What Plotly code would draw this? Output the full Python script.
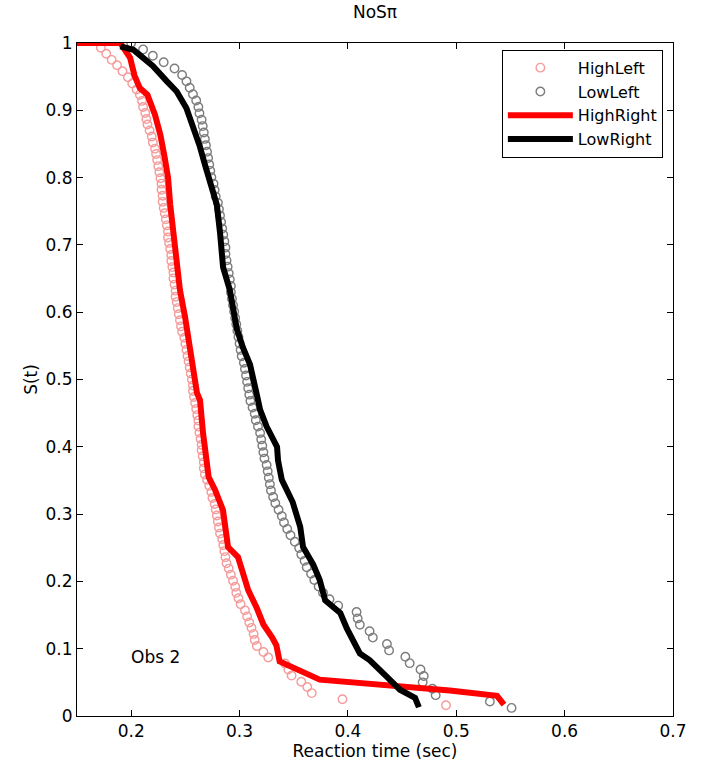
import plotly.graph_objects as go

# ---------------- data ----------------
high_left_rt = [0.172, 0.177, 0.182, 0.187, 0.192, 0.197, 0.201, 0.205, 0.208, 0.210,
                0.211, 0.213, 0.214, 0.215, 0.217, 0.219, 0.220, 0.222, 0.223, 0.224,
                0.225, 0.226, 0.227, 0.228, 0.228, 0.229, 0.229, 0.230, 0.231, 0.232,
                0.233, 0.234, 0.234, 0.235, 0.236, 0.237, 0.237, 0.238, 0.239, 0.239,
                0.240, 0.241, 0.241, 0.242, 0.243, 0.244, 0.245, 0.246, 0.247, 0.249,
                0.250, 0.251, 0.252, 0.253, 0.254, 0.255, 0.256, 0.257, 0.257, 0.258,
                0.259, 0.260, 0.261, 0.262, 0.262, 0.263, 0.264, 0.265, 0.265, 0.266,
                0.267, 0.267, 0.268, 0.270, 0.272, 0.274, 0.275, 0.277, 0.278, 0.279,
                0.280, 0.281, 0.282, 0.284, 0.285, 0.286, 0.287, 0.288, 0.290, 0.292,
                0.294, 0.296, 0.297, 0.299, 0.301, 0.305, 0.307, 0.309, 0.311, 0.313,
                0.314, 0.316, 0.322, 0.3265, 0.342, 0.345, 0.348, 0.357, 0.3625, 0.3666,
                0.395, 0.4905]
high_left_s = [0.993, 0.984, 0.975, 0.967, 0.958, 0.949, 0.940, 0.931, 0.923, 0.914,
               0.905, 0.896, 0.887, 0.879, 0.870, 0.861, 0.852, 0.843, 0.835, 0.826,
               0.817, 0.808, 0.799, 0.791, 0.782, 0.773, 0.764, 0.755, 0.747, 0.738,
               0.729, 0.720, 0.711, 0.703, 0.694, 0.685, 0.676, 0.667, 0.659, 0.650,
               0.641, 0.632, 0.623, 0.615, 0.606, 0.597, 0.588, 0.579, 0.571, 0.562,
               0.553, 0.544, 0.535, 0.527, 0.518, 0.509, 0.500, 0.491, 0.483, 0.474,
               0.465, 0.456, 0.447, 0.439, 0.430, 0.421, 0.412, 0.403, 0.395, 0.386,
               0.377, 0.368, 0.359, 0.351, 0.342, 0.333, 0.324, 0.315, 0.307, 0.298,
               0.289, 0.280, 0.271, 0.263, 0.254, 0.245, 0.236, 0.227, 0.219, 0.210,
               0.201, 0.192, 0.183, 0.175, 0.166, 0.157, 0.148, 0.139, 0.131, 0.122,
               0.113, 0.104, 0.095, 0.087, 0.078, 0.069, 0.060, 0.051, 0.043, 0.034,
               0.025, 0.016]

low_left_rt = [0.200, 0.211, 0.220, 0.230, 0.240, 0.247, 0.251, 0.254, 0.257, 0.260,
               0.262, 0.263, 0.265, 0.266, 0.267, 0.268, 0.269, 0.270, 0.271, 0.272,
               0.273, 0.274, 0.276, 0.277, 0.278, 0.280, 0.281, 0.282, 0.283, 0.284,
               0.285, 0.286, 0.287, 0.287, 0.288, 0.289, 0.290, 0.291, 0.292, 0.292,
               0.293, 0.294, 0.295, 0.296, 0.297, 0.298, 0.299, 0.300, 0.301, 0.302,
               0.304, 0.305, 0.306, 0.307, 0.308, 0.309, 0.310, 0.312, 0.314, 0.315,
               0.317, 0.319, 0.320, 0.321, 0.322, 0.323, 0.325, 0.326, 0.327, 0.328,
               0.329, 0.331, 0.333, 0.336, 0.339, 0.341, 0.344, 0.347, 0.351, 0.355,
               0.357, 0.360, 0.362, 0.366, 0.369, 0.373, 0.377, 0.383, 0.391, 0.408,
               0.409, 0.411, 0.420, 0.423, 0.436, 0.438, 0.453, 0.457, 0.467, 0.470,
               0.469, 0.478, 0.481, 0.531, 0.551]
low_left_s = [1.000, 0.9905, 0.981, 0.9715, 0.962, 0.9525, 0.943, 0.9335, 0.924, 0.9145,
              0.905, 0.8955, 0.886, 0.8765, 0.867, 0.8575, 0.848, 0.8385, 0.829, 0.8195,
              0.810, 0.8005, 0.791, 0.7815, 0.772, 0.7625, 0.753, 0.7435, 0.734, 0.7245,
              0.715, 0.7055, 0.696, 0.6865, 0.677, 0.6675, 0.658, 0.6485, 0.639, 0.6295,
              0.620, 0.6105, 0.601, 0.5915, 0.582, 0.5725, 0.563, 0.5535, 0.544, 0.5345,
              0.525, 0.5155, 0.506, 0.4965, 0.487, 0.4775, 0.468, 0.4585, 0.449, 0.4395,
              0.430, 0.4205, 0.411, 0.4015, 0.392, 0.3825, 0.373, 0.3635, 0.354, 0.3445,
              0.335, 0.3255, 0.316, 0.3065, 0.297, 0.2875, 0.278, 0.2685, 0.259, 0.2495,
              0.240, 0.2305, 0.221, 0.2115, 0.202, 0.1925, 0.183, 0.1735, 0.164, 0.1545,
              0.145, 0.1355, 0.126, 0.1165, 0.107, 0.0975, 0.088, 0.0785, 0.069, 0.0595,
              0.050, 0.0405, 0.031, 0.0215, 0.012]

high_right_rt = [0.150, 0.190, 0.199, 0.203, 0.208, 0.215, 0.222, 0.227, 0.231, 0.234,
                 0.236, 0.2405, 0.245, 0.2497, 0.2543, 0.257, 0.2607, 0.2635, 0.2663, 0.2715,
                 0.2774, 0.2847, 0.2894, 0.2986, 0.303, 0.308, 0.316, 0.322, 0.330, 0.334,
                 0.337, 0.374, 0.494, 0.5376, 0.544]
high_right_s = [1.000, 1.000, 0.978, 0.952, 0.933, 0.923, 0.893, 0.863, 0.829, 0.800,
                0.760, 0.692, 0.633, 0.593, 0.544, 0.529, 0.480, 0.4695, 0.4205, 0.355,
                0.336, 0.306, 0.251, 0.236, 0.212, 0.187, 0.160, 0.136, 0.117, 0.105,
                0.081, 0.054, 0.038, 0.030, 0.017]

low_right_rt = [0.190, 0.202, 0.208, 0.220, 0.233, 0.242, 0.251, 0.257, 0.263, 0.269,
                0.275, 0.279, 0.282, 0.2848, 0.291, 0.2975, 0.303, 0.3097, 0.316, 0.319,
                0.325, 0.3346, 0.3355, 0.339, 0.349, 0.356, 0.3586, 0.368, 0.374, 0.379,
                0.393, 0.399, 0.411, 0.420, 0.436, 0.448, 0.462, 0.4655]
low_right_s = [0.995, 0.990, 0.982, 0.966, 0.943, 0.928, 0.903, 0.878, 0.848, 0.814,
               0.785, 0.760, 0.718, 0.667, 0.633, 0.575, 0.548, 0.522, 0.477, 0.455,
               0.430, 0.400, 0.380, 0.351, 0.318, 0.281, 0.251, 0.225, 0.202, 0.172,
               0.153, 0.130, 0.093, 0.083, 0.058, 0.039, 0.027, 0.013]

x_ticks = [0.2, 0.3, 0.4, 0.5, 0.6, 0.7]
x_tick_labels = ["0.2", "0.3", "0.4", "0.5", "0.6", "0.7"]
y_ticks = [0, 0.1, 0.2, 0.3, 0.4, 0.5, 0.6, 0.7, 0.8, 0.9, 1]
y_tick_labels = ["0", "0.1", "0.2", "0.3", "0.4", "0.5", "0.6", "0.7", "0.8", "0.9", "1"]

# ---------------- figure ----------------
FONT = "DejaVu Sans"
PINK = "rgb(246,155,155)"
GREY = "rgb(125,125,125)"
fig = go.Figure()

fig.add_trace(go.Scatter(
    x=high_left_rt, y=high_left_s, mode="markers", name="HighLeft",
    marker=dict(symbol="circle-open", size=8.5, color=PINK,
                line=dict(width=1.4, color=PINK))))
fig.add_trace(go.Scatter(
    x=low_left_rt, y=low_left_s, mode="markers", name="LowLeft",
    marker=dict(symbol="circle-open", size=8.5, color=GREY,
                line=dict(width=1.4, color=GREY))))
fig.add_trace(go.Scatter(
    x=high_right_rt, y=high_right_s, mode="lines", name="HighRight",
    line=dict(color="#ff0000", width=6)))
fig.add_trace(go.Scatter(
    x=low_right_rt, y=low_right_s, mode="lines", name="LowRight",
    line=dict(color="#000000", width=6)))

axis_common = dict(
    showgrid=False, zeroline=False, showline=True, linecolor="black", linewidth=1,
    mirror="ticks", ticks="inside", ticklen=6, tickcolor="black", tickwidth=1,
    tickfont=dict(family=FONT, size=17, color="black"),
)

fig.update_layout(
    width=707, height=774,
    margin=dict(l=77, r=34, t=43, b=58),
    paper_bgcolor="white", plot_bgcolor="white",
    font=dict(family=FONT, size=17, color="black"),
    title=dict(text="NoSπ", x=0.5, xref="paper", y=1 - 12 / 774, yref="container",
               xanchor="center", yanchor="middle",
               font=dict(family=FONT, size=17, color="black")),
    xaxis=dict(range=[0.15, 0.7], tickvals=x_ticks, ticktext=x_tick_labels,
               title=dict(text="Reaction time (sec)", standoff=0,
                          font=dict(family=FONT, size=17, color="black")),
               **axis_common),
    yaxis=dict(range=[0, 1], tickvals=y_ticks, ticktext=y_tick_labels,
               title=dict(text="S(t)", standoff=3,
                          font=dict(family=FONT, size=17, color="black")),
               **axis_common),
    legend=dict(x=0.983, y=0.99, xanchor="right", yanchor="top",
                bgcolor="white", bordercolor="black", borderwidth=1,
                font=dict(family=FONT, size=16, color="black"),
                itemwidth=65, tracegroupgap=0),
    showlegend=True,
)

fig.add_annotation(x=0.198, y=0.088, xref="x", yref="y", text="Obs 2",
                   showarrow=False, xanchor="left", yanchor="middle",
                   font=dict(family=FONT, size=17, color="black"))

fig.write_html("out.html",
               config={"displayModeBar": False},
               post_script="document.body.style.margin='0';")
